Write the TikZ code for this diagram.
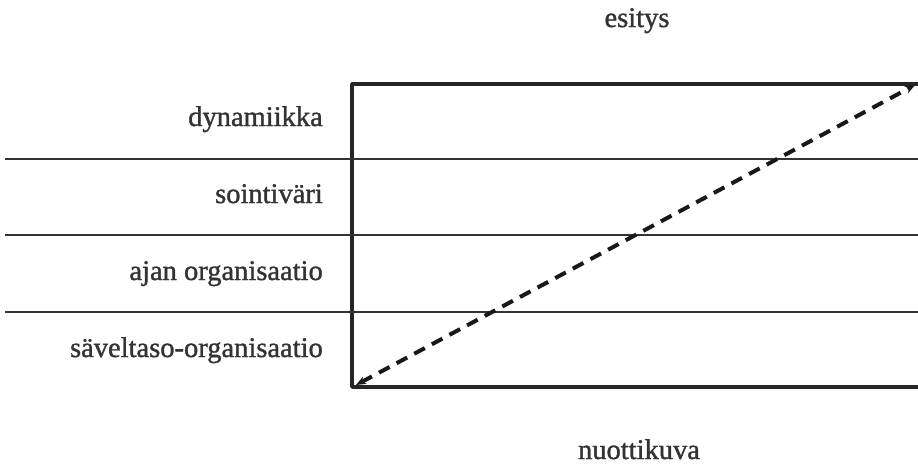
\documentclass[tikz,border=0pt]{standalone}
\usepackage{fontspec}
\setmainfont{Liberation Serif}
\newfontfamily\lblfont[FakeBold=1.2]{Liberation Serif}
\usetikzlibrary{arrows.meta}
\begin{document}
\begin{tikzpicture}[x=1pt, y=-1pt, line join=round, >={Stealth[length=10pt,width=8pt]}, font=\lblfont\fontsize{28.5}{34}\selectfont]
	\tikzset{rowlabel/.style={anchor=base east, inner sep=0pt, black!80}, title/.style={anchor=base, inner sep=0pt, black!80},
		frame/.style={line width=3.5pt, black!85}, rowline/.style={line width=2.2pt, black!80},
		diag/.style={<->, line width=4pt, black!90, dash pattern=on 12pt off 8pt}}
	\def\xl{352} \def\xr{923}
	\def\yt{84} \def\yb{387}
	\useasboundingbox (0,0) rectangle (918,467);
	\draw[frame] (\xr,\yt)--(\xl,\yt)--(\xl,\yb)--(\xr,\yb);
	\foreach \y in {159,235,312} \draw[rowline] (5,\y)--(\xr,\y);
	\coordinate (lo) at (356,385); \coordinate (hi) at (915,85);
	\draw[diag] (lo)--(hi);
	\foreach \n/\y/\t in {dyn/126/dynamiikka, soi/203/sointiväri, aja/280/ajan organisaatio, sav/357/säveltaso-organisaatio} \node[rowlabel] (\n) at (323,\y) {\t};
	\node[title] (esitys) at (637,27) {esitys};
	\node[title] (nuotti) at (639,459) {nuottikuva};
\end{tikzpicture}
\end{document}
